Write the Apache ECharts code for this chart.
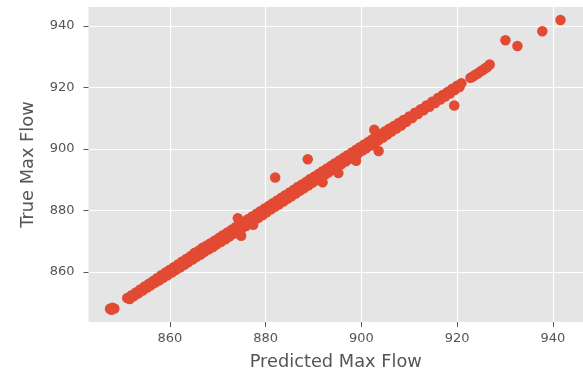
<!DOCTYPE html>
<html>
<head>
<meta charset="utf-8">
<script src="https://cdn.jsdelivr.net/npm/echarts@6/dist/echarts.min.js"></script>
<style>
html,body{margin:0;padding:0;background:#fff;}
#chart{width:583px;height:376px;}
</style>
</head>
<body>
<div id="chart"></div>
<script>
// Tick labels
const xTicks = [860, 880, 900, 920, 940];
const yTicks = [860, 880, 900, 920, 940];
const xAxisTitle = 'Predicted Max Flow';
const yAxisTitle = 'True Max Flow';

// Main band of points [predicted, true]
const bandPoints = [
  [847.5,848.0],[848.0,848.3],[848.4,848.1],[847.8,847.7],
  [851.1,851.5],[851.6,851.2],[852.0,852.4],[852.5,852.1],[852.9,853.3],[853.4,853.0],
  [853.8,854.3],[854.3,853.9],[854.7,855.2],[855.2,854.8],[855.6,856.1],[856.0,855.6],
  [856.5,857.0],[856.9,856.5],[857.3,857.9],[857.8,857.3],[858.2,858.9],[858.6,858.1],
  [859.1,859.8],[859.5,858.9],[859.9,860.6],[860.4,859.8],[860.8,861.5],[861.2,860.6],
  [861.7,862.4],[862.1,861.4],[862.5,863.3],[863.0,862.3],[863.4,864.2],[863.8,863.1],
  [864.3,865.1],[864.7,864.0],[865.1,866.1],[865.5,864.8],[866.0,866.9],[866.4,865.6],
  [866.8,867.8],[867.2,866.5],[867.7,868.6],[868.1,867.3],[868.5,869.3],[869.0,868.1],
  [869.4,870.2],[869.8,869.0],[870.3,871.1],[870.7,869.8],[871.1,871.9],[871.6,870.6],
  [872.0,872.8],[872.4,871.5],[872.9,873.7],[873.3,872.4],[873.7,874.5],[874.2,873.2],
  [874.6,875.4],[875.0,874.1],[875.5,876.3],[875.9,874.9],[876.3,877.1],[876.8,875.8],
  [877.2,878.0],[877.6,876.7],[878.1,878.9],[878.5,877.6],[878.9,879.7],[879.4,878.5],
  [879.8,880.6],[880.2,879.4],[880.7,881.5],[881.1,880.3],[881.5,882.3],[882.0,881.2],
  [882.4,883.2],[882.8,882.0],[883.3,884.1],[883.7,882.9],[884.1,884.9],[884.6,883.8],
  [885.0,885.8],[885.4,884.6],[885.9,886.7],[886.3,885.5],[886.7,887.6],[887.2,886.4],
  [887.6,888.4],[888.0,887.2],[888.5,889.3],[888.9,888.1],[889.3,890.2],[889.8,889.0],
  [890.2,891.0],[890.6,889.8],[891.1,891.9],[891.5,890.7],[891.9,892.7],[892.4,891.6],
  [892.8,893.6],[893.2,892.4],[893.7,894.5],[894.1,893.3],[894.5,895.3],[895.0,894.2],
  [895.4,896.2],[895.8,895.0],[896.3,897.1],[896.7,895.9],[897.1,897.9],[897.6,896.8],
  [898.0,898.8],[898.4,897.6],[898.9,899.7],[899.3,898.5],[899.7,900.5],[900.2,899.4],
  [900.6,901.4],[901.0,900.2],[901.5,902.3],[901.9,901.1],[902.3,903.1],[902.8,902.0],
  [903.2,904.0],[903.6,902.8],[904.1,904.8],[904.5,903.7],[904.9,905.6],[905.4,904.6],
  [905.8,906.5],[906.3,905.6],[906.8,907.4],[907.3,906.6],[907.8,908.4],[908.3,907.6],
  [908.8,909.4],[909.4,908.8],[910.0,910.5],[910.6,910.0],[911.2,911.7],[911.8,911.3],
  [912.4,912.9],[913.0,912.5],[913.6,914.1],[914.2,913.7],[914.8,915.3],[915.4,914.9],
  [916.0,916.5],[916.5,916.0],[917.0,917.5],[917.5,917.0],[918.0,918.5],[918.5,918.0],
  [919.0,919.5],[919.5,919.1],[920.0,920.5],[920.5,920.1],[920.9,921.3],
  [922.8,923.1],[923.3,923.5],[923.8,924.1],[924.3,924.5],[924.8,925.1],[925.3,925.5],
  [925.8,926.1],[926.3,926.6],[926.8,927.4]
];

// Points away from the band
const outlierPoints = [
  [874.2,877.4],[874.9,871.7],[877.4,875.3],
  [882.0,890.7],[888.8,896.6],[891.9,889.1],[895.2,892.1],
  [898.9,896.1],[902.7,906.2],[903.6,899.3],[919.4,914.1],
  [930.1,935.3],[932.6,933.4],[937.8,938.2],[941.6,941.9]
];

const allPoints = bandPoints.concat(outlierPoints);

const chart = echarts.init(document.getElementById('chart'), null, {renderer: 'canvas'});
const textColor = '#555555';
const font = 'DejaVu Sans';

chart.setOption({
  animation: false,
  backgroundColor: '#ffffff',
  grid: {
    left: 88.5, right: 0, top: 7, bottom: 49,
    show: true, backgroundColor: '#E5E5E5', borderWidth: 0
  },
  xAxis: {
    type: 'value',
    min: 843.0, max: 946.3,
    name: xAxisTitle,
    nameLocation: 'middle',
    nameGap: 31,
    nameTextStyle: {color: textColor, fontSize: 17.8, fontFamily: font},
    axisLine: {show: false},
    axisTick: {show: true, length: 5, customValues: xTicks, lineStyle: {color: textColor, width: 1}},
    axisLabel: {customValues: xTicks, color: textColor, fontSize: 13, fontFamily: font, margin: 10},
    splitLine: {show: true, lineStyle: {color: '#ffffff', width: 1.2}}
  },
  yAxis: {
    type: 'value',
    min: 843.7, max: 946.1,
    name: yAxisTitle,
    nameLocation: 'middle',
    nameGap: 51,
    nameTextStyle: {color: textColor, fontSize: 17.8, fontFamily: font},
    axisLine: {show: false},
    axisTick: {show: true, length: 5, customValues: yTicks, lineStyle: {color: textColor, width: 1}},
    axisLabel: {customValues: yTicks, color: textColor, fontSize: 13, fontFamily: font, margin: 14},
    splitLine: {show: true, lineStyle: {color: '#ffffff', width: 1.2}}
  },
  series: [{
    type: 'scatter',
    data: allPoints,
    symbol: 'circle',
    symbolSize: 10.5,
    itemStyle: {color: '#E24A33', opacity: 1},
    silent: true
  }]
});
</script>
</body>
</html>
